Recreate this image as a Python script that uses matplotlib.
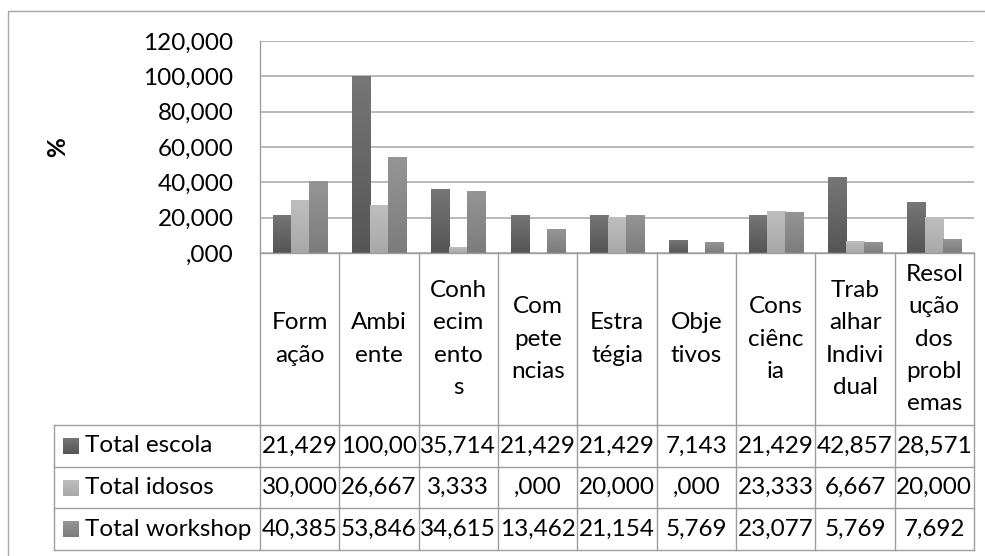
import numpy as np
import matplotlib
matplotlib.use('Agg')
import matplotlib.pyplot as plt
import matplotlib.transforms as mtransforms
from matplotlib.colors import LinearSegmentedColormap
from matplotlib.lines import Line2D
from matplotlib.patches import Rectangle

plt.rcParams['font.family'] = ['Lato', 'DejaVu Sans']

# data
categories = ['Form\nação', 'Ambi\nente', 'Conh\necim\nento\ns', 'Com\npete\nncias',
              'Estra\ntégia', 'Obje\ntivos', 'Cons\nciênc\nia', 'Trab\nalhar\nIndivi\ndual',
              'Resol\nução\ndos\nprobl\nemas']
series_names = ['Total escola', 'Total idosos', 'Total workshop']
total_escola = [21.429, 100.000, 35.714, 21.429, 21.429, 7.143, 21.429, 42.857, 28.571]
total_idosos = [30.000, 26.667, 3.333, 0.000, 20.000, 0.000, 23.333, 6.667, 20.000]
total_workshop = [40.385, 53.846, 34.615, 13.462, 21.154, 5.769, 23.077, 5.769, 7.692]
yticks = [0, 20, 40, 60, 80, 100, 120]

series = [total_escola, total_idosos, total_workshop]
# (bottom, top) gradient colours
grads = [('#555555', '#767676'), ('#a8a8a8', '#bebebe'), ('#7c7c7c', '#959595')]

W, H = 985, 556
FS = 17.5
fig = plt.figure(figsize=(W / 100, H / 100), dpi=100)

def fx(px):
    return px / W

def fy(py):
    return 1 - py / H

ax_l, ax_r, ax_t, ax_b = 260, 974, 41, 253
ax = fig.add_axes([fx(ax_l), fy(ax_b), fx(ax_r - ax_l), (ax_b - ax_t) / H])

def fmt(v, cut=None):
    s = f'{v:.3f}'.replace('.', ',')
    if s.startswith('0,'):
        s = s[1:]
    # table cells are too narrow for 7 characters
    return s[:cut] if cut else s

n = len(categories)
x = np.arange(n)
bw = 0.227
grid_c = '#a6a6a6'
line_c = '#9e9e9e'

for yv in yticks:
    ax.axhline(yv, color=grid_c, lw=1.1, zorder=0)

for k, vals in enumerate(series):
    bars = ax.bar(x + (k - 1) * bw, vals, width=bw, color=grads[k][0], zorder=2, linewidth=0)
    cmap = LinearSegmentedColormap.from_list(f'g{k}', [grads[k][0], grads[k][1]])
    grad = np.linspace(1, 0, 64).reshape(-1, 1)
    for b in bars:
        h = b.get_height()
        if h <= 0:
            continue
        ax.imshow(grad, cmap=cmap, extent=[b.get_x(), b.get_x() + b.get_width(), 0, h],
                  aspect='auto', zorder=3, vmin=0, vmax=1, interpolation='bilinear')

ax.set_xlim(-0.5, n - 0.5)
ax.set_ylim(0, 120)
ax.set_yticks(yticks)
ax.set_yticklabels([fmt(v) for v in yticks], fontsize=FS)
ax.tick_params(axis='y', length=0, pad=19)
ax.set_xticks([])
for side in ['top', 'right', 'bottom']:
    ax.spines[side].set_visible(False)
ax.spines['left'].set_color(line_c)
ax.spines['left'].set_linewidth(1.0)

fig.text(fx(58), fy(147), '%', rotation=90, fontsize=FS, fontweight='bold',
         ha='center', va='center')

# data table under the plot
trans = mtransforms.blended_transform_factory(ax.transData, fig.transFigure)
hdr_bot = 425
row_edges = [425, 467, 508, 550]
leg_l = 54

for i in range(n + 1):
    fig.add_artist(Line2D([i - 0.5, i - 0.5], [fy(ax_b), fy(row_edges[-1])], transform=trans,
                          color=line_c, lw=1.0))
for ry in row_edges:
    fig.add_artist(Line2D([fx(leg_l), fx(ax_r)], [fy(ry), fy(ry)], transform=fig.transFigure,
                          color=line_c, lw=1.0))
fig.add_artist(Line2D([fx(leg_l), fx(leg_l)], [fy(row_edges[0]), fy(row_edges[-1])],
                      transform=fig.transFigure, color=line_c, lw=1.0))
fig.add_artist(Line2D([fx(ax_l), fx(ax_r)], [fy(ax_b), fy(ax_b)], transform=fig.transFigure,
                      color=line_c, lw=1.0))

for i, lab in enumerate(categories):
    fig.text(i, fy((ax_b + hdr_bot) / 2), lab, transform=trans, ha='center', va='center',
             fontsize=FS, linespacing=1.65)

for k, name in enumerate(series_names):
    yc = (row_edges[k] + row_edges[k + 1]) / 2
    cmap = LinearSegmentedColormap.from_list(f'k{k}', [grads[k][0], grads[k][1]])
    kax = fig.add_axes([fx(63), fy(yc + 8), fx(16), 16 / H])
    kax.imshow(np.linspace(1, 0, 32).reshape(-1, 1), cmap=cmap, aspect='auto', vmin=0, vmax=1)
    kax.axis('off')
    fig.text(fx(85), fy(yc), name, ha='left', va='center', fontsize=FS)
    for i, v in enumerate(series[k]):
        fig.text(i, fy(yc), fmt(v, 6), transform=trans, ha='center', va='center', fontsize=FS)

# outer chart border
fig.add_artist(Rectangle((fx(8), fy(H + 20)), 1.2, (H + 20 - 11) / H, transform=fig.transFigure,
                         fill=False, edgecolor='#a6a6a6', lw=1.0))

fig.savefig('out.png', dpi=100)
